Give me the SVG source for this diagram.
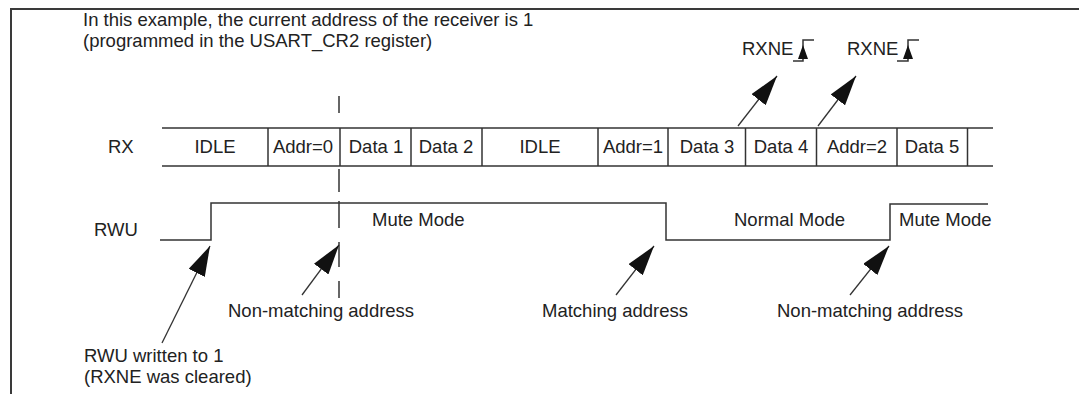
<svg xmlns="http://www.w3.org/2000/svg" width="1079" height="394" viewBox="0 0 1079 394">
  <style>
    text { font-family: "Liberation Sans", Arial, sans-serif; font-size: 18.5px; fill: #222; }
    .c { text-anchor: middle; }
    .ln { stroke: #333; stroke-width: 1.5; fill: none; }
    .ar { stroke: #333; stroke-width: 1.3; fill: none; marker-end: url(#ah); }
    .frame { stroke: #3a3a3a; stroke-width: 2; fill: none; }
  </style>
  <defs>
    <marker id="ah" viewBox="0 0 30 18" refX="30" refY="9" markerWidth="30" markerHeight="18" markerUnits="userSpaceOnUse" orient="auto">
      <path d="M0,0 L30,9 L0,18 z" fill="#111"/>
    </marker>
  </defs>
  <rect width="1079" height="394" fill="#fff"/>
  <g id="frame">
    <line class="frame" x1="10" y1="9" x2="1079" y2="9"/>
    <line class="frame" x1="11" y1="9" x2="11" y2="394"/>
  </g>
  <g id="caption">
    <text x="83" y="26">In this example, the current address of the receiver is 1</text>
    <text x="83" y="47">(programmed in the USART_CR2 register)</text>
  </g>
  <g id="rxne1">
    <text x="742" y="55">RXNE</text>
    <path class="ln" d="M793,61 H803 V40 H814"/>
    <path d="M803,45 L798,59 L808,59 z" fill="#111"/>
  </g>
  <g id="rxne2">
    <text x="847" y="55">RXNE</text>
    <path class="ln" d="M897,61 H908 V40 H919"/>
    <path d="M908,45 L903,59 L913,59 z" fill="#111"/>
  </g>
  <g id="rx">
    <text x="108" y="153">RX</text>
    <line class="ln" x1="162" y1="128" x2="993" y2="128"/>
    <line class="ln" x1="162" y1="166" x2="993" y2="166"/>
    <g class="ln">
      <line x1="268" y1="128" x2="268" y2="166"/>
      <line x1="340" y1="128" x2="340" y2="166"/>
      <line x1="411" y1="128" x2="411" y2="166"/>
      <line x1="482" y1="128" x2="482" y2="166"/>
      <line x1="598" y1="128" x2="598" y2="166"/>
      <line x1="668" y1="128" x2="668" y2="166"/>
      <line x1="745.5" y1="128" x2="745.5" y2="166"/>
      <line x1="816.5" y1="128" x2="816.5" y2="166"/>
      <line x1="897" y1="128" x2="897" y2="166"/>
      <line x1="967.5" y1="128" x2="967.5" y2="166"/>
    </g>
    <text class="c" x="215" y="153">IDLE</text>
    <text class="c" x="303" y="153">Addr=0</text>
    <text class="c" x="376" y="153">Data 1</text>
    <text class="c" x="446" y="153">Data 2</text>
    <text class="c" x="540" y="153">IDLE</text>
    <text class="c" x="633" y="153">Addr=1</text>
    <text class="c" x="707" y="153">Data 3</text>
    <text class="c" x="781" y="153">Data 4</text>
    <text class="c" x="857" y="153">Addr=2</text>
    <text class="c" x="932" y="153">Data 5</text>
  </g>
  <g id="rwu">
    <text x="94" y="236">RWU</text>
    <path class="ln" d="M160,240 H211 V203 H666 V240 H890 V204 H988"/>
    <text x="372" y="226">Mute Mode</text>
    <text x="734" y="226">Normal Mode</text>
    <text x="899" y="226">Mute Mode</text>
  </g>
  <g id="marker-line" class="ln">
    <line x1="339" y1="96" x2="339" y2="113"/>
    <line x1="339" y1="169" x2="339" y2="192"/>
    <line x1="339" y1="201" x2="339" y2="228"/>
    <line x1="339" y1="242" x2="339" y2="267"/>
    <line x1="339" y1="281" x2="339" y2="298"/>
  </g>
  <g id="labels">
    <text x="228" y="317">Non-matching address</text>
    <text x="542" y="317">Matching address</text>
    <text x="777" y="317">Non-matching address</text>
    <text x="84" y="362">RWU written to 1</text>
    <text x="84" y="383">(RXNE was cleared)</text>
  </g>
  <g id="connectors">
    <line class="ar" x1="738" y1="126" x2="777" y2="76"/>
    <line class="ar" x1="818" y1="126" x2="856" y2="76"/>
    <line class="ar" x1="162" y1="343" x2="210" y2="246"/>
    <line class="ar" x1="302" y1="295" x2="339" y2="245"/>
    <line class="ar" x1="616" y1="295" x2="654" y2="246"/>
    <line class="ar" x1="850" y1="295" x2="889" y2="246"/>
  </g>
</svg>
